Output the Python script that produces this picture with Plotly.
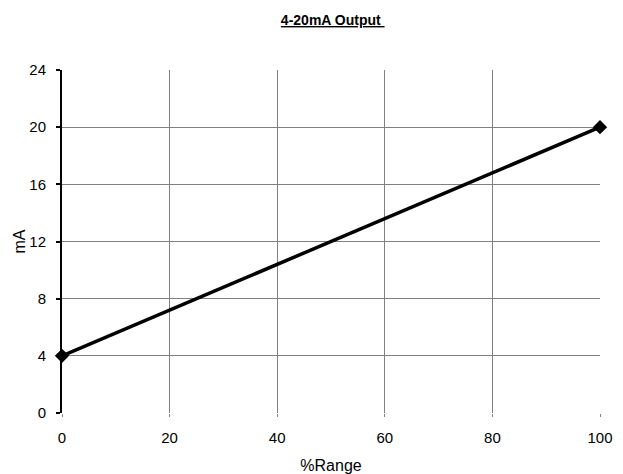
import plotly.graph_objects as go

# Data
pct_range = [0, 100]
ma_out = [4, 20]

x_ticks = [0, 20, 40, 60, 80, 100]
y_ticks = [0, 4, 8, 12, 16, 20, 24]

fig = go.Figure()

fig.add_trace(go.Scatter(
    x=pct_range,
    y=ma_out,
    mode='lines+markers',
    line=dict(color='black', width=3.5),
    marker=dict(symbol='diamond', size=11, color='black'),
    cliponaxis=False,
    showlegend=False
))

# page body has an 8px margin, so the figure is a bit smaller than the window
fig.update_layout(
    width=615,
    height=466,
    paper_bgcolor='white',
    plot_bgcolor='white',
    font=dict(family='Liberation Sans, Arial, sans-serif', color='black', size=15),
    title=dict(
        text='<b><u>4-20mA Output&nbsp;</u></b>',
        x=0.528, xanchor='center',
        y=0.974, yanchor='middle',
        font=dict(size=14)
    ),
    margin=dict(l=54, r=23, t=62, b=61),
    xaxis=dict(
        range=[0, 100],
        tickvals=x_ticks,
        showgrid=True, gridcolor='#808080', gridwidth=1,
        zeroline=False,
        showline=False,
        automargin=False,
        ticks='outside', ticklen=3, tickcolor='#808080',
        ticklabelstandoff=8,
        title=dict(text='%Range', font=dict(size=16), standoff=19),
        tickfont=dict(size=15)
    ),
    yaxis=dict(
        range=[0, 24],
        tickvals=y_ticks,
        showgrid=True, gridcolor='#808080', gridwidth=1,
        zeroline=False,
        showline=True, linecolor='black', linewidth=2,
        automargin=False,
        ticks='outside', ticklen=4, tickcolor='black', tickwidth=2,
        ticklabelstandoff=7,
        title=dict(text='mA', font=dict(size=16), standoff=0),
        tickfont=dict(size=15)
    )
)

fig.write_html("out.html")
